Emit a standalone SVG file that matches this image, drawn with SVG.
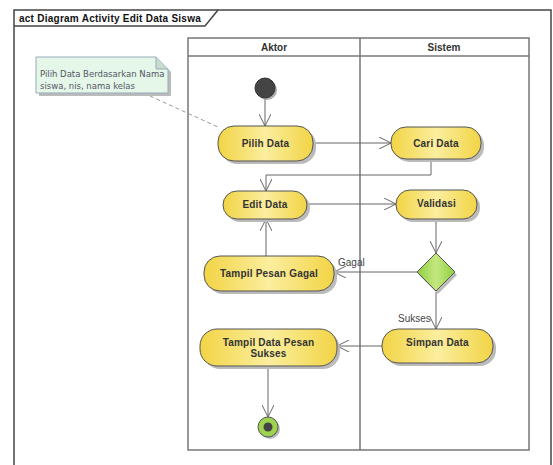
<svg xmlns="http://www.w3.org/2000/svg" width="553" height="465" viewBox="0 0 553 465">
<style>
.frame{fill:none;stroke:#444;stroke-width:1.5}
.lane{fill:none;stroke:#777;stroke-width:1.5}
.act{fill:url(#yg);stroke:#555;stroke-width:1}
.sh{fill:#bbb}
.lbl{font-family:"Liberation Sans",Arial,sans-serif;font-size:10px;font-weight:bold;fill:#333;text-anchor:middle;letter-spacing:0.2px}
.title{font-family:"Liberation Sans",Arial,sans-serif;font-size:10px;font-weight:bold;fill:#111;letter-spacing:0.25px}
.hdr{font-family:"Liberation Sans",Arial,sans-serif;font-size:10px;font-weight:bold;fill:#333;text-anchor:middle}
.guard{font-family:"Liberation Sans",Arial,sans-serif;font-size:10px;fill:#444}
.note{font-family:"DejaVu Sans",Verdana,sans-serif;font-size:8.5px;fill:#556}
.flow{fill:none;stroke:#666;stroke-width:1;marker-end:url(#arr)}
</style>
<defs>
<linearGradient id="yg" x1="0" y1="0" x2="1" y2="0">
<stop offset="0" stop-color="#f2d445"/>
<stop offset="0.5" stop-color="#fbee9e"/>
<stop offset="1" stop-color="#f2d445"/>
</linearGradient>
<linearGradient id="gg" x1="0" y1="0" x2="1" y2="0">
<stop offset="0" stop-color="#8fcf40"/>
<stop offset="0.5" stop-color="#c4e880"/>
<stop offset="1" stop-color="#8fcf40"/>
</linearGradient>
<marker id="arr" viewBox="0 0 12 12" refX="12" refY="6" markerWidth="12" markerHeight="12" markerUnits="userSpaceOnUse" orient="auto">
<path d="M0,0 L12,6 L0,12" fill="none" stroke="#666" stroke-width="1"/>
</marker>
</defs>
<rect width="553" height="465" fill="#fff"/>
<g id="frame">
<path class="frame" d="M14,465 V10 H551 V465"/>
<path class="frame" d="M14,26 H205 L218,10"/>
<text class="title" x="19" y="22">act Diagram Activity Edit Data Siswa</text>
</g>
<g id="pool">
<rect class="lane" x="188" y="38" width="341" height="412"/>
<line class="lane" x1="188" y1="56" x2="529" y2="56"/>
<line class="lane" x1="360" y1="38" x2="360" y2="450"/>
<text class="hdr" x="274" y="51">Aktor</text>
<text class="hdr" x="444" y="51">Sistem</text>
</g>
<g id="note">
<path d="M39,60 H159 L171,72 V96 H39 Z" fill="#bbb"/>
<path d="M36,57 H156 L168,69 V93 H36 Z" fill="#e4f7e8" stroke="#9ab" stroke-width="1"/>
<path d="M156,57 V69 H168" fill="#c8dccb" stroke="#9ab" stroke-width="1"/>
<text class="note" x="40" y="77">Pilih Data Berdasarkan Nama</text>
<text class="note" x="40" y="89">siswa, nis, nama kelas</text>
</g>
<g id="connectors">
<line x1="150" y1="96" x2="220" y2="128" stroke="#999" stroke-width="1" stroke-dasharray="4,3"/>
<path class="flow" d="M265,98 V126"/>
<path class="flow" d="M313,143 H391"/>
<path class="flow" d="M431,159 V175 H266 V191"/>
<path class="flow" d="M307,204 H396"/>
<path class="flow" d="M436,219 V253"/>
<path class="flow" d="M417,272 H334"/>
<path class="flow" d="M266,256 V219"/>
<path class="flow" d="M436,292 V329"/>
<path class="flow" d="M382,346 H337"/>
<path class="flow" d="M268,366 V417"/>
<text class="guard" x="338" y="266">Gagal</text>
<text class="guard" x="398" y="322">Sukses</text>
</g>
<g id="initial">
<circle cx="267" cy="90" r="10" fill="#aaa"/>
<circle cx="265" cy="88" r="10" fill="#444" stroke="#333"/>
</g>
<g id="pilih-data">
<rect class="sh" x="221" y="129" width="95" height="35" rx="16"/>
<rect class="act" x="218" y="126" width="95" height="35" rx="16"/>
<text class="lbl" x="265.5" y="147">Pilih Data</text>
</g>
<g id="cari-data">
<rect class="sh" x="394" y="130" width="90" height="32" rx="15"/>
<rect class="act" x="391" y="127" width="90" height="32" rx="15"/>
<text class="lbl" x="436" y="147">Cari Data</text>
</g>
<g id="edit-data">
<rect class="sh" x="226" y="194" width="84" height="28" rx="14"/>
<rect class="act" x="223" y="191" width="84" height="28" rx="14"/>
<text class="lbl" x="265" y="208">Edit Data</text>
</g>
<g id="validasi">
<rect class="sh" x="399" y="193" width="81" height="29" rx="14"/>
<rect class="act" x="396" y="190" width="81" height="29" rx="14"/>
<text class="lbl" x="436.5" y="207">Validasi</text>
</g>
<g id="tampil-pesan-gagal">
<rect class="sh" x="207" y="259" width="130" height="35" rx="16"/>
<rect class="act" x="204" y="256" width="130" height="35" rx="16"/>
<text class="lbl" x="269" y="277">Tampil Pesan Gagal</text>
</g>
<g id="decision">
<path d="M438,256 L457,275 L438,294 L419,275 Z" fill="#bbb"/>
<path d="M436,253 L455,272 L436,291 L417,272 Z" fill="url(#gg)" stroke="#555" stroke-width="1"/>
</g>
<g id="simpan-data">
<rect class="sh" x="385" y="332" width="111" height="34" rx="16"/>
<rect class="act" x="382" y="329" width="111" height="34" rx="16"/>
<text class="lbl" x="437.5" y="346">Simpan Data</text>
</g>
<g id="tampil-data-pesan-sukses">
<rect class="sh" x="203" y="332" width="137" height="37" rx="17"/>
<rect class="act" x="200" y="329" width="137" height="37" rx="17"/>
<text class="lbl" x="268.5" y="346">Tampil Data Pesan</text>
<text class="lbl" x="268.5" y="357">Sukses</text>
</g>
<g id="final">
<circle cx="270" cy="429" r="10" fill="#bbb"/>
<circle cx="268" cy="427" r="10" fill="#9ed34f" stroke="#555" stroke-width="1"/>
<circle cx="268" cy="427" r="4.5" fill="#444"/>
</g>
</svg>
